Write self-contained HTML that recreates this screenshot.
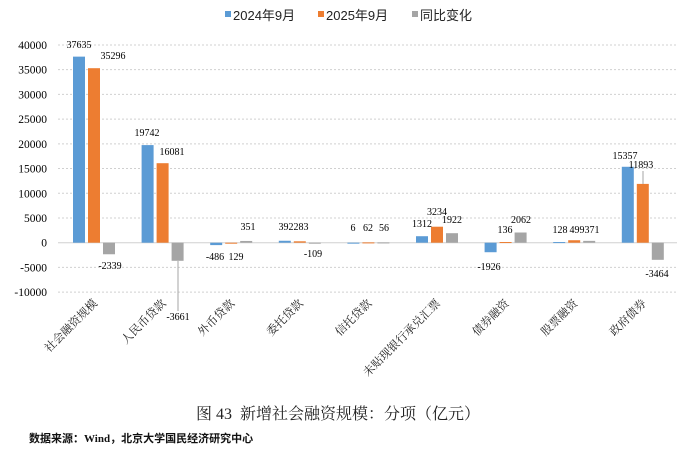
<!DOCTYPE html>
<html><head><meta charset="utf-8"><style>
body{margin:0;background:#fff;}
svg{display:block;}
.t{font-family:"Liberation Serif","Noto Serif CJK SC",serif;}
</style></head><body>
<svg width="690" height="454" xmlns="http://www.w3.org/2000/svg" id="s">
<g id="grid" stroke="#d0d0d0" stroke-dasharray="2,2" stroke-width="1"></g>
<g id="bars"></g>
<g id="lbl" class="t" font-size="10" fill="#000" text-anchor="middle"></g>
<g id="cat" class="t" font-size="11.5" fill="#222"></g>
<g font-family="Liberation Sans,'Noto Sans CJK SC',sans-serif" font-size="13" fill="#222">
<rect x="225" y="11" width="6" height="6" fill="#5b9bd5"/><text x="233" y="20">2024年9月</text>
<rect x="318" y="11" width="6" height="6" fill="#ed7d31"/><text x="326" y="20">2025年9月</text>
<rect x="412" y="11" width="6" height="6" fill="#a5a5a5"/><text x="420" y="20">同比变化</text>
</g>
<text x="196" y="419" class="t" font-size="16" fill="#222" xml:space="preserve">图 43  新增社会融资规模：分项（亿元）</text>
<text x="29" y="442" font-family="'Liberation Serif','Noto Sans CJK SC',sans-serif" font-size="11" font-weight="bold" fill="#111">数据来源：Wind，北京大学国民经济研究中心</text>
</svg>
<script>
var ns="http://www.w3.org/2000/svg";
function el(p,t,a,txt){var e=document.createElementNS(ns,t);for(var k in a)e.setAttribute(k,a[k]);if(txt!=null)e.textContent=txt;document.getElementById(p).appendChild(e);return e;}
function Y(v){return 242.7-v*0.004944;}
for(var v=-10000;v<=40000;v+=5000){
 if(v!=0)el("grid","line",{x1:58,x2:677,y1:Y(v),y2:Y(v)});
 el("lbl","text",{x:47,y:Y(v)+4,"text-anchor":"end","font-size":"11.5"},String(v));
}
el("bars","line",{x1:58,x2:677,y1:Y(0),y2:Y(0),stroke:"#d0d0d0"});
var D=[[37635,35296,-2339],[19742,16081,-3661],[-486,-129,351],[392,283,-109],[6,62,56],[1312,3234,1922],[-1926,136,2062],[128,499,371],[15357,11893,-3464]];
var C=["#5b9bd5","#ed7d31","#a5a5a5"];
var names=["社会融资规模","人民币贷款","外币贷款","委托贷款","信托贷款","未贴现银行承兑汇票","债券融资","股票融资","政府债券"];
D.forEach(function(d,i){var c=94+68.6*i;
 d.forEach(function(v,j){var x=c-21+15*j;var y0=Y(0),y1=Y(v);
  el("bars","rect",{x:x,y:Math.min(y0,y1),width:12,height:Math.max(1,Math.abs(y1-y0)),fill:C[j]});});
 el("cat","text",{x:0,y:0,"text-anchor":"end",transform:"translate("+(c+4)+",304) rotate(-45)"},names[i]);
});
var L=[[79,48,"37635"],[113,59,"35296"],[110,269,"-2339"],[147,136,"19742"],[172,155,"16081"],[178,320,"-3661"],
[215,260,"-486"],[236,260,"129"],[248,230,"351"],[286,230,"392"],[301,230,"283"],[313,257,"-109"],
[353,231,"6"],[368,231,"62"],[384,231,"56"],[422,227,"1312"],[437,215,"3234"],[452,223,"1922"],
[489,270,"-1926"],[505,233,"136"],[521,223,"2062"],[560,233,"128"],[577,233,"499"],[592,233,"371"],
[625,159,"15357"],[641,168,"11893"],[657,277,"-3464"]];
L.forEach(function(l){el("lbl","text",{x:l[0],y:l[1]},l[2]);});
el("bars","line",{x1:178,x2:178,y1:261,y2:311,stroke:"#a5a5a5"});
el("bars","line",{x1:643,x2:643,y1:171,y2:184,stroke:"#a5a5a5"});
</script>
</body></html>
